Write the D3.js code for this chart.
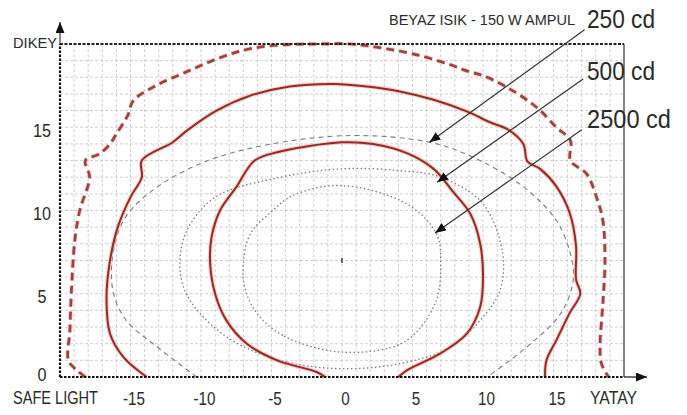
<!DOCTYPE html>
<html>
<head>
<meta charset="utf-8">
<script src="https://cdn.jsdelivr.net/npm/d3@7"></script>
<style>
  html, body { margin: 0; padding: 0; background: #fff; }
  svg { display: block; }
  text { font-family: "Liberation Sans", Arial, sans-serif; fill: #2a2a2a; }
</style>
</head>
<body>
<svg id="chart" width="687" height="415"></svg>
<script>
// ---------- DATA ----------
const title = "BEYAZ ISIK - 150 W AMPUL";
const yAxisName = "DIKEY";
const xAxisName = "YATAY";
const cornerName = "SAFE LIGHT";
const xTicks = [-15, -10, -5, 0, 5, 10, 15];
const yTicks = [0, 5, 10, 15];

// Measured isocandela contours (red): [horizontal, vertical]
const red250 = [[-18.2,0],[-18.8,0.4],[-19.4,1.0],[-19.3,2.8],[-19.2,5.0],[-18.95,8.2],[-18.6,10.0],[-17.9,12.0],[-18.2,13.0],[-17.2,13.4],[-16.45,14.0],[-16.0,14.6],[-15.2,15.7],[-14.8,16.6],[-13.2,17.5],[-11.1,18.3],[-8.9,19.1],[-6.6,19.7],[-4.2,19.95],[-1.8,20.0],[0.6,20.0],[2.9,19.75],[5.3,19.35],[7.7,18.75],[8.8,18.4],[10.0,18.1],[11.7,17.4],[13.8,16.2],[15.2,15.0],[16.2,14.2],[16.2,13.0],[17.35,12.2],[18.05,10.8],[18.5,9.4],[18.65,7.0],[18.5,4.4],[18.3,1.8],[18.4,0.8],[18.9,0]];
const red500 = [[-13.85,0],[-15.5,1.2],[-16.45,2.6],[-16.7,4.8],[-16.45,7.0],[-15.9,9.0],[-15.0,10.8],[-14.2,12.0],[-14.2,13.0],[-12.0,14.1],[-11.0,14.8],[-8.9,16.0],[-6.5,16.9],[-3.7,17.45],[-0.6,17.6],[1.75,17.45],[4.1,17.15],[6.5,16.65],[8.85,15.95],[10.5,15.3],[11.8,14.85],[12.86,14.0],[13.15,12.95],[14.05,12.5],[15.2,11.45],[16.15,9.85],[16.6,7.85],[16.6,5.85],[16.9,5.0],[16.15,3.85],[15.2,2.2],[14.5,1.0],[14.4,0]];
const red2500 = [[-1.2,0],[-1.8,0.3],[-4.6,1.0],[-6.75,2.0],[-8.2,3.4],[-9.0,5.0],[-9.35,6.8],[-9.25,8.4],[-8.65,10.0],[-7.5,11.4],[-6.2,13.0],[-4.6,13.5],[-2.5,13.85],[0,14.1],[2.2,14.0],[4.6,13.45],[6.5,12.5],[7.9,11.1],[9.1,9.8],[9.8,8.0],[10.0,6.0],[9.8,4.2],[8.85,2.6],[6.95,1.4],[4.6,0.4],[4.0,0]];

// Reference (grey) contours
const grey250 = [[-10.3,0],[-13.1,1.8],[-15.3,3.4],[-16.2,5.0],[-16.3,7.0],[-15.5,9.4],[-13.6,11.1],[-10.1,12.8],[-5.6,13.9],[0.6,14.5],[6.2,14.1],[9.3,13.2],[12.9,11.4],[15.2,9.4],[16.2,7.4],[16.4,5.8],[15.5,3.8],[13.1,1.8],[10.3,0]];
const grey500 = [[-0.1,0.5],[-3.9,0.9],[-7.4,2.0],[-9.6,3.4],[-11.1,5.1],[-11.5,6.8],[-11.0,8.8],[-9.0,10.8],[-4.9,11.9],[-0.1,12.5],[4.0,12.4],[7.0,12.0],[10.0,10.4],[11.4,7.4],[11.2,5.2],[10.0,3.6],[7.7,1.8],[4.1,0.8]];
const grey2500 = [[-0.1,1.5],[-4.2,2.5],[-6.1,3.9],[-6.9,5.4],[-7.0,6.8],[-6.5,8.6],[-4.9,10.0],[-3.5,10.9],[-0.1,11.5],[4.6,10.4],[6.7,8.6],[7.0,6.8],[6.6,4.4],[4.4,2.1]];
const centerMark = [0, 7];

// Annotations: label, arrow start, arrow tip (chart units)
const annLabels = ["250 cd", "500 cd", "2500 cd"];
const annFrom = [[17.2,20.85],[17.1,17.9],[17.0,14.85]];
const annTo = [[6.2,14.1],[6.75,11.7],[6.6,8.65]];

// ---------- DRAW ----------
const svg = d3.select("#chart");
svg.append("rect").attr("width", 687).attr("height", 415).attr("fill", "#fff");

const x = d3.scaleLinear().domain([-20, 20]).range([60, 624]);
const y = d3.scaleLinear().domain([0, 20]).range([377, 44]);

// grid
const grid = svg.append("g").attr("stroke", "#c4c4c4").attr("stroke-width", 0.8).attr("stroke-dasharray", "3,2");
grid.selectAll("line.v").data(d3.range(-19, 20)).join("line")
  .attr("x1", d => x(d)).attr("x2", d => x(d)).attr("y1", y(0)).attr("y2", y(20));
grid.selectAll("line.h").data(d3.range(1, 20)).join("line")
  .attr("y1", d => y(d)).attr("y2", d => y(d)).attr("x1", x(-20)).attr("x2", x(20));

// defs
const defs = svg.append("defs");
defs.append("marker").attr("id", "ah").attr("markerUnits", "userSpaceOnUse")
  .attr("markerWidth", 12).attr("markerHeight", 10).attr("refX", 11).attr("refY", 4.5)
  .attr("orient", "auto")
  .append("path").attr("d", "M0,0 L11,4.5 L0,9 Z").attr("fill", "#111");

const line = d3.line().x(d => x(d[0])).y(d => y(d[1])).curve(d3.curveCatmullRom.alpha(0.5));
const closed = d3.line().x(d => x(d[0])).y(d => y(d[1])).curve(d3.curveCatmullRomClosed.alpha(0.5));

// grey reference contours
svg.append("path").attr("d", line(grey250)).attr("fill", "none")
  .attr("stroke", "#7c7c7c").attr("stroke-width", 1.1).attr("stroke-dasharray", "5,4");
svg.append("path").attr("d", closed(grey500)).attr("fill", "none")
  .attr("stroke", "#7c7c7c").attr("stroke-width", 1.3).attr("stroke-dasharray", "1.5,2.5");
svg.append("path").attr("d", closed(grey2500)).attr("fill", "none")
  .attr("stroke", "#7c7c7c").attr("stroke-width", 1.3).attr("stroke-dasharray", "1.5,2.5");

// centre mark
svg.append("rect").attr("x", x(centerMark[0]) - 1).attr("y", y(centerMark[1]) - 2.5)
  .attr("width", 2).attr("height", 5).attr("fill", "#666");

// red contours
function redCurve(data, dashed) {
  const halo = svg.append("path").attr("d", line(data)).attr("fill", "none")
    .attr("stroke", "#f3b0a8").attr("stroke-width", dashed ? 4.5 : 4.2).attr("stroke-opacity", 0.6)
    .attr("stroke-linejoin", "round");
  const core = svg.append("path").attr("d", line(data)).attr("fill", "none")
    .attr("stroke", dashed ? "#9a4441" : "#962a24").attr("stroke-width", dashed ? 2.7 : 2)
    .attr("stroke-linejoin", "round");
  if (dashed) { halo.attr("stroke-dasharray", "8,5"); core.attr("stroke-dasharray", "8,5"); }
}
redCurve(red250, true);
redCurve(red500, false);
redCurve(red2500, false);

// frame: top dashed, right thin, axes dotted with arrows
svg.append("line").attr("x1", x(-20)).attr("x2", x(20)).attr("y1", y(20)).attr("y2", y(20))
  .attr("stroke", "#222").attr("stroke-width", 2.2).attr("stroke-dasharray", "3,1.5");
svg.append("line").attr("x1", x(20)).attr("x2", x(20)).attr("y1", y(20)).attr("y2", y(0))
  .attr("stroke", "#222").attr("stroke-width", 1.1);
svg.append("line").attr("x1", x(-20)).attr("x2", x(-20)).attr("y1", y(0)).attr("y2", y(20))
  .attr("stroke", "#111").attr("stroke-width", 2.2).attr("stroke-dasharray", "2.5,1.5");
svg.append("line").attr("x1", x(-20)).attr("x2", x(-20)).attr("y1", y(20)).attr("y2", 22)
  .attr("stroke", "#111").attr("stroke-width", 1).attr("marker-end", "url(#ah)");
svg.append("line").attr("x1", x(-20)).attr("x2", x(20)).attr("y1", y(0)).attr("y2", y(0))
  .attr("stroke", "#111").attr("stroke-width", 2.2).attr("stroke-dasharray", "2.5,1.5");
svg.append("line").attr("x1", x(20)).attr("x2", 647).attr("y1", y(0)).attr("y2", y(0))
  .attr("stroke", "#111").attr("stroke-width", 1.2).attr("marker-end", "url(#ah)");

// axes tick labels via d3 axes
const xAxis = svg.append("g").attr("transform", `translate(3,${y(0)})`)
  .call(d3.axisBottom(x).tickValues(xTicks).tickSize(0).tickPadding(15).tickFormat(d3.format("d")));
xAxis.select(".domain").remove();
xAxis.selectAll("text").attr("font-size", 19).attr("fill", "#333")
  .attr("font-family", "Liberation Sans, Arial, sans-serif")
  .text(d => d < 0 ? "-" + Math.abs(d) : String(d));
const yAxis = svg.append("g").attr("transform", `translate(0,0)`)
  .call(d3.axisLeft(y).tickValues(yTicks).tickSize(0).tickFormat(d3.format("d")));
yAxis.select(".domain").remove();
yAxis.selectAll("text").attr("x", 42).attr("text-anchor", "middle").attr("font-size", 19)
  .attr("dy", d => d === 0 ? "0.2em" : "0.5em").attr("fill", "#333")
  .attr("font-family", "Liberation Sans, Arial, sans-serif");
yAxis.selectAll(".tick").attr("transform", d => `translate(0,${y(d)})`);

// condense helper
function squeeze(sel, f) {
  sel.each(function() {
    const w = this.getComputedTextLength();
    d3.select(this).attr("textLength", w * f).attr("lengthAdjust", "spacingAndGlyphs");
  });
}
squeeze(xAxis.selectAll("text"), 0.8);
squeeze(yAxis.selectAll("text"), 0.85);

// labels
function label(txt, px, py, size, len, color) {
  return svg.append("text").attr("x", px).attr("y", py).attr("font-size", size)
    .attr("fill", color || "#222").attr("textLength", len).attr("lengthAdjust", "spacingAndGlyphs").text(txt);
}
label(yAxisName, 13, 48, 15, 44);
label(cornerName, 13, 404, 19, 85);
label(xAxisName, 590, 404, 19, 47);
label(title, 389, 25, 14, 186);

// annotation arrows and labels
svg.append("g").selectAll("line").data(annFrom).join("line")
  .attr("x1", d => x(d[0])).attr("y1", d => y(d[1]))
  .attr("x2", (d, i) => x(annTo[i][0])).attr("y2", (d, i) => y(annTo[i][1]))
  .attr("stroke", "#333").attr("stroke-width", 1.2).attr("marker-end", "url(#ah)");
const annY = [28, 80, 128];
const annLen = [68, 68, 84];
annLabels.forEach((t, i) => label(t, 587, annY[i], 25, annLen[i], "#444"));
</script>
</body>
</html>
